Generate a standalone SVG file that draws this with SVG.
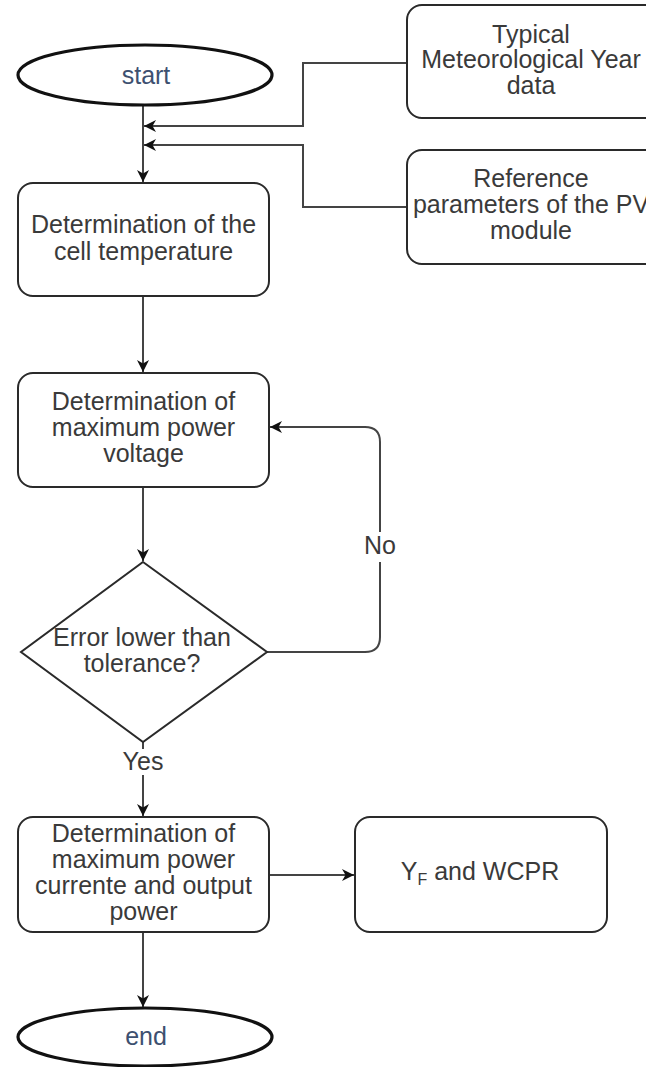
<svg xmlns="http://www.w3.org/2000/svg" width="646" height="1067" viewBox="0 0 646 1067">
<defs>
<marker id="ah" viewBox="0 0 12 12" refX="12" refY="6" markerWidth="12" markerHeight="12" markerUnits="userSpaceOnUse" orient="auto"><path d="M0,0 L12,6 L0,12 L3.5,6 Z" fill="#111"/></marker>
<style>
.n{fill:#fff;stroke:#2a2a2a;stroke-width:2}
.e{fill:#fff;stroke:#111;stroke-width:3.2}
.t{font-family:"Liberation Sans",Arial,sans-serif;font-size:25px;fill:#3a3a3a;text-anchor:middle}
.b{fill:#3d5070}
.c{fill:none;stroke:#444;stroke-width:2}
</style>
</defs>
<rect width="646" height="1067" fill="#fff"/>
<g id="connectors">
<path class="c" d="M143,105 V182" marker-end="url(#ah)"/>
<path class="c" d="M407,63 H303 V126 H144" marker-end="url(#ah)"/>
<path class="c" d="M407,207 H303 V145 H144" marker-end="url(#ah)"/>
<path class="c" d="M143,296 V372" marker-end="url(#ah)"/>
<path class="c" d="M143,487 V561" marker-end="url(#ah)"/>
<path class="c" d="M267,652 H365 Q380,652 380,637 V442 Q380,427 365,427 H270" marker-end="url(#ah)"/>
<path class="c" d="M143,742 V816" marker-end="url(#ah)"/>
<path class="c" d="M269,875 H354" marker-end="url(#ah)"/>
<path class="c" d="M143,932 V1007" marker-end="url(#ah)"/>
</g>
<g id="start"><ellipse class="e" cx="145" cy="75" rx="127" ry="30"/><text class="t b" x="146" y="84">start</text></g>
<g id="tmy"><rect class="n" x="407" y="5" width="255" height="113" rx="15"/><text class="t" x="531" y="43">Typical</text><text class="t" x="531" y="68">Meteorological Year</text><text class="t" x="531" y="94">data</text></g>
<g id="ref"><rect class="n" x="407" y="150" width="255" height="114" rx="15"/><text class="t" x="531" y="187">Reference</text><text class="t" x="531" y="213">parameters of the PV</text><text class="t" x="531" y="239">module</text></g>
<g id="celltemp"><rect class="n" x="18" y="183" width="251" height="113" rx="15"/><text class="t" x="143.5" y="233">Determination of the</text><text class="t" x="143.5" y="260">cell temperature</text></g>
<g id="voltage"><rect class="n" x="18" y="373" width="251" height="114" rx="15"/><text class="t" x="143.5" y="410">Determination of</text><text class="t" x="143.5" y="436">maximum power</text><text class="t" x="143.5" y="462">voltage</text></g>
<g id="decision"><path class="n" d="M143,562 L267,652 L143,742 L21,652 Z"/><text class="t" x="142" y="646">Error lower than</text><text class="t" x="142" y="672">tolerance?</text></g>
<g id="labels"><rect x="364" y="532" width="32" height="30" fill="#fff"/><text class="t" x="380" y="554">No</text><rect x="118" y="749" width="50" height="26" fill="#fff"/><text class="t" x="143" y="770">Yes</text></g>
<g id="current"><rect class="n" x="18" y="817" width="251" height="115" rx="15"/><text class="t" x="143.5" y="842">Determination of</text><text class="t" x="143.5" y="868">maximum power</text><text class="t" x="143.5" y="894">currente and output</text><text class="t" x="143.5" y="920">power</text></g>
<g id="yf"><rect class="n" x="355" y="817" width="252" height="115" rx="15"/><text class="t" x="480" y="880">Y<tspan font-size="16" dy="5">F</tspan><tspan dy="-5"> and WCPR</tspan></text></g>
<g id="end"><ellipse class="e" cx="145" cy="1037" rx="127" ry="29"/><text class="t b" x="146" y="1045">end</text></g>
</svg>
